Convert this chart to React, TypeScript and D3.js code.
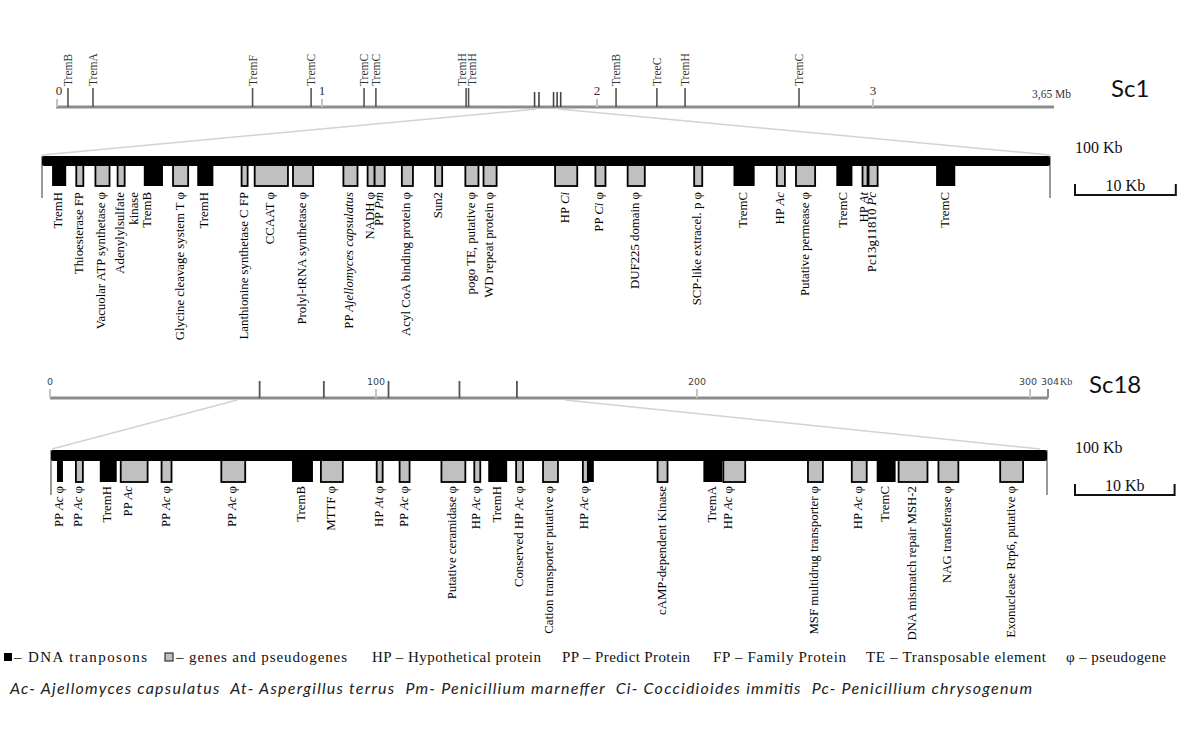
import React from "react";
import * as d3 from "d3";

type Kind = "te" | "gene";
interface Feature { start: number; end: number; kind: Kind; label: string; lx?: number; }

// ---- Sc1 chromosome (Mb) ----
const SC1_AXIS_TICKS = [0, 1, 2, 3];
const SC1_LENGTH = 3.65;
const SC1_TE_POS = [0.045, 0.139, 0.739, 0.959, 1.153, 1.196, 1.524, 1.533, 2.069, 2.217, 2.319, 2.732];
const SC1_TE_NAMES = ["TremB", "TremA", "TremF", "TremC", "TremC", "TremC", "TremH", "TremH", "TremB", "TreeC", "TremH", "TremC"];
const SC1_CLUSTER = [1.773, 1.789, 1.842, 1.855, 1.868];
const SC1_WINDOW = [1.78, 1.86];

// ---- Sc1 100 Kb window (kb) ----
const SC1_FEATURES: Feature[] = [
  { start: 1.0, end: 2.4, kind: "te", label: "TremH" },
  { start: 3.4, end: 4.1, kind: "gene", label: "Thioesterase FP" },
  { start: 5.3, end: 6.7, kind: "gene", label: "Vacuolar ATP synthetase φ" },
  { start: 7.5, end: 8.2, kind: "gene", label: "Adenylylsulfate\nkinase" },
  { start: 10.1, end: 12.0, kind: "te", label: "TremB", lx: 10.5 },
  { start: 13.0, end: 14.5, kind: "gene", label: "Glycine cleavage system T φ" },
  { start: 15.4, end: 17.0, kind: "te", label: "TremH" },
  { start: 19.8, end: 20.4, kind: "gene", label: "Lanthionine synthetase C FP" },
  { start: 21.1, end: 24.4, kind: "gene", label: "CCAAT φ" },
  { start: 24.9, end: 26.9, kind: "gene", label: "Prolyl-tRNA synthetase φ" },
  { start: 29.9, end: 31.3, kind: "gene", label: "PP *Ajellomyces capsulatus*" },
  { start: 32.3, end: 33.0, kind: "gene", label: "NADH φ" },
  { start: 33.0, end: 34.0, kind: "gene", label: "PP *Pm*" },
  { start: 35.7, end: 36.8, kind: "gene", label: "Acyl CoA binding protein φ" },
  { start: 39.0, end: 39.7, kind: "gene", label: "Sun2" },
  { start: 42.0, end: 43.3, kind: "gene", label: "pogo TE, putative φ" },
  { start: 43.8, end: 45.1, kind: "gene", label: "WD repeat protein φ" },
  { start: 50.9, end: 53.1, kind: "gene", label: "HP *Ci*" },
  { start: 54.9, end: 55.9, kind: "gene", label: "PP *Ci* φ" },
  { start: 58.1, end: 59.8, kind: "gene", label: "DUF225 domain φ" },
  { start: 64.7, end: 65.5, kind: "gene", label: "SCP-like extracel. p φ" },
  { start: 68.6, end: 70.7, kind: "te", label: "TremC" },
  { start: 72.9, end: 73.7, kind: "gene", label: "HP *Ac*" },
  { start: 74.8, end: 76.7, kind: "gene", label: "Putative permease φ" },
  { start: 78.8, end: 80.4, kind: "te", label: "TremC" },
  { start: 81.4, end: 81.9, kind: "gene", label: "HP *At*" },
  { start: 82.0, end: 82.9, kind: "gene", label: "Pc13g11810 *Pc*" },
  { start: 88.7, end: 90.6, kind: "te", label: "TremC" },
];

// ---- Sc18 chromosome (kb) ----
const SC18_AXIS_TICKS = [0, 100, 200, 300];
const SC18_LENGTH = 304;
const SC18_TE_POS = [64.3, 84.0, 103.9, 126.0, 143.9];
const SC18_WINDOW = [57.4, 158.9];

// ---- Sc18 100 Kb window (kb) ----
const SC18_FEATURES: Feature[] = [
  { start: 0.6, end: 1.2, kind: "te", label: "PP *Ac* φ" },
  { start: 2.5, end: 3.2, kind: "gene", label: "PP *Ac* φ" },
  { start: 4.9, end: 6.6, kind: "te", label: "TremH" },
  { start: 7.0, end: 9.7, kind: "gene", label: "PP *Ac*", lx: 7.8 },
  { start: 11.1, end: 12.1, kind: "gene", label: "PP *Ac* φ" },
  { start: 17.1, end: 19.5, kind: "gene", label: "PP *Ac* φ" },
  { start: 24.2, end: 26.3, kind: "te", label: "TremB" },
  { start: 27.1, end: 29.3, kind: "gene", label: "MTTF φ" },
  { start: 32.7, end: 33.3, kind: "gene", label: "HP *At* φ" },
  { start: 35.0, end: 36.0, kind: "gene", label: "PP *Ac* φ" },
  { start: 39.2, end: 41.6, kind: "gene", label: "Putative ceramidase φ" },
  { start: 42.5, end: 43.1, kind: "gene", label: "HP *Ac* φ" },
  { start: 43.9, end: 45.8, kind: "te", label: "TremH" },
  { start: 46.7, end: 47.4, kind: "gene", label: "Conserved HP *Ac* φ" },
  { start: 49.4, end: 50.9, kind: "gene", label: "Cation transporter putative φ" },
  { start: 53.4, end: 53.9, kind: "gene", label: "HP *Ac* φ" },
  { start: 53.9, end: 54.5, kind: "te", label: "" },
  { start: 60.9, end: 61.9, kind: "gene", label: "cAMP-dependent Kinase" },
  { start: 65.5, end: 67.4, kind: "te", label: "TremA" },
  { start: 67.5, end: 69.7, kind: "gene", label: "HP *Ac* φ", lx: 68.1 },
  { start: 76.0, end: 77.5, kind: "gene", label: "MSF multidrug transporter φ" },
  { start: 80.4, end: 81.9, kind: "gene", label: "HP *Ac* φ" },
  { start: 82.9, end: 84.8, kind: "te", label: "TremC" },
  { start: 85.1, end: 88.0, kind: "gene", label: "DNA mismatch repair MSH-2" },
  { start: 89.1, end: 91.1, kind: "gene", label: "NAG transferase φ" },
  { start: 95.3, end: 97.6, kind: "gene", label: "Exonuclease Rrp6, putative φ" },
];

const LEGEND_ITEMS = [
  "– DNA tranposons",
  "– genes and pseudogenes",
  "HP – Hypothetical protein",
  "PP – Predict Protein",
  "FP – Family Protein",
  "TE – Transposable element",
  "φ – pseudogene",
];
const SPECIES_LINE = "Ac- Ajellomyces capsulatus  At- Aspergillus terrus  Pm- Penicillium marneffer  Ci- Coccidioides immitis  Pc- Penicillium chrysogenum";

const SERIF = "'Liberation Serif', 'Times New Roman', serif";
const SANS = "'DejaVu Sans', sans-serif";
const TITLE = "Lato, 'Open Sans', sans-serif";

function Rich({ text }: { text: string }) {
  const parts = text.split("*");
  return (
    <>
      {parts.map((p, i) =>
        i % 2 ? <tspan key={i} fontStyle="italic">{p}</tspan> : <tspan key={i}>{p}</tspan>
      )}
    </>
  );
}

function Track({ features, scale, barTop, barH, boxH, labelTop, endLineBottom }: {
  features: Feature[]; scale: d3.ScaleLinear<number, number>; barTop: number; barH: number; boxH: number; labelTop: number; endLineBottom: number;
}) {
  const [r0, r1] = scale.range();
  const boxTop = barTop + barH - 1;
  return (
    <g>
      <line x1={r0} x2={r0} y1={barTop} y2={endLineBottom} stroke="#555" strokeWidth={1.2} />
      <line x1={r1} x2={r1} y1={barTop} y2={endLineBottom} stroke="#555" strokeWidth={1.2} />
      {features.map((f, i) => {
        const x0 = scale(f.start), x1 = scale(f.end);
        return f.kind === "te" ? (
          <rect key={i} x={x0} y={boxTop} width={x1 - x0} height={boxH} fill="#000" />
        ) : (
          <rect key={i} x={x0} y={boxTop} width={x1 - x0} height={boxH} fill="#c0c0c0" stroke="#000" strokeWidth={1.8} />
        );
      })}
      <rect x={r0} y={barTop} width={r1 - r0} height={barH} fill="#000" rx={2} />
      {features.map((f, i) => {
        if (!f.label) return null;
        const cx = scale(f.lx ?? (f.start + f.end) / 2) - 1;
        const lines = f.label.split("\n");
        return lines.map((ln, j) => (
          <text key={`${i}-${j}`} transform={`translate(${cx + j * 14},${labelTop}) rotate(-90)`}
            textAnchor="end" dominantBaseline="central" fontFamily={SERIF} fontSize={12.8} fill="#000"
            style={{ whiteSpace: "pre" }}>
            <Rich text={ln} />
          </text>
        ));
      })}
    </g>
  );
}

function ScaleBar({ x, y, scale }: { x: number; y: number; scale: d3.ScaleLinear<number, number> }) {
  const len = scale(10) - scale(0);
  return (
    <g>
      <text x={x} y={y - 42} fontFamily={SERIF} fontSize={16} fill="#111">100 Kb</text>
      <line x1={x} x2={x + len} y1={y} y2={y} stroke="#111" strokeWidth={2} />
      <line x1={x} x2={x} y1={y - 11} y2={y + 1} stroke="#111" strokeWidth={2} />
      <line x1={x + len} x2={x + len} y1={y - 11} y2={y + 1} stroke="#111" strokeWidth={2} />
      <text x={x + len / 2} y={y - 4} textAnchor="middle" fontFamily={SERIF} fontSize={16} fill="#111">10 Kb</text>
    </g>
  );
}

export default function App() {
  // Sc1 overview
  const sc1 = d3.scaleLinear().domain([0, 1, 2, 3, SC1_LENGTH]).range([56, 322, 597, 873, 1054]);
  const sc1Y = 107;
  const t1 = d3.scaleLinear().domain([0, 100]).range([42, 1050]);

  const teX = SC1_TE_POS.map((p) => sc1(p));
  const labX = teX.slice();
  for (let i = 1; i < labX.length; i++) {
    if (teX[i] - teX[i - 1] < 9) {
      const mid = (teX[i] + teX[i - 1]) / 2;
      labX[i - 1] = mid - 5;
      labX[i] = mid + 5;
    }
  }

  // Sc18 overview
  const sc18 = d3.scaleLinear().domain([0, 100, 200, 300, SC18_LENGTH]).range([50, 376, 697, 1030, 1048]);
  const sc18Y = 398;
  const t18 = d3.scaleLinear().domain([0, 100]).range([51, 1047]);

  const legendX = [14, 176, 372, 562, 713, 866, 1066];
  const legendW = [133, 171, 169, 128, 133, 180, 100];

  return (
    <svg width={1200} height={735} viewBox="0 0 1200 735"
      style={{ position: "absolute", left: 0, top: 0, background: "#fff" }}>
      <rect width={1200} height={735} fill="#fff" />

      {/* ===== Sc1 overview ===== */}
      <line x1={sc1.range()[0]} x2={sc1.range()[4]} y1={sc1Y} y2={sc1Y} stroke="#8c8c8c" strokeWidth={3} />
      {SC1_AXIS_TICKS.map((t) => (
        <g key={t}>
          <line x1={sc1(t) + (t === 0 ? 1 : 0)} x2={sc1(t) + (t === 0 ? 1 : 0)} y1={sc1Y - 8} y2={sc1Y} stroke="#c4c4c4" strokeWidth={2} />
          <text x={sc1(t) + (t === 0 ? 3 : 0)} y={sc1Y - 12} textAnchor="middle" fontFamily={SERIF} fontSize={13} fill="#333">{t}</text>
        </g>
      ))}
      <text x={sc1(SC1_LENGTH) - 22} y={sc1Y - 9} fontFamily={SERIF} fontSize={11.5} fill="#333">3,65 Mb</text>
      {teX.map((x, i) => (
        <g key={i}>
          <line x1={x} x2={x} y1={sc1Y - 19} y2={sc1Y} stroke="#555" strokeWidth={1.6} />
          <text transform={`translate(${labX[i]},${sc1Y - 21}) rotate(-90)`} dominantBaseline="central"
            fontFamily={SERIF} fontSize={11.5} fill="#333">{SC1_TE_NAMES[i]}</text>
        </g>
      ))}
      {SC1_CLUSTER.map((p, i) => (
        <line key={i} x1={sc1(p)} x2={sc1(p)} y1={sc1Y - 15} y2={sc1Y} stroke="#444" strokeWidth={1.6} />
      ))}
      <text x={1111} y={sc1Y - 10} fontFamily={TITLE} fontSize={24} fill="#111">Sc1</text>

      {/* zoom lines Sc1 */}
      <line x1={sc1(SC1_WINDOW[0])} y1={sc1Y + 2} x2={t1.range()[0]} y2={155} stroke="#d2d2d2" strokeWidth={1.5} />
      <line x1={sc1(SC1_WINDOW[1])} y1={sc1Y + 2} x2={t1.range()[1]} y2={155} stroke="#d2d2d2" strokeWidth={1.5} />

      <Track features={SC1_FEATURES} scale={t1} barTop={156} barH={10} boxH={21} labelTop={192} endLineBottom={198} />
      <ScaleBar x={1075} y={195} scale={t1} />

      {/* ===== Sc18 overview ===== */}
      <line x1={sc18.range()[0]} x2={sc18.range()[4]} y1={sc18Y} y2={sc18Y} stroke="#8c8c8c" strokeWidth={3} />
      {SC18_AXIS_TICKS.map((t) => (
        <g key={t}>
          <line x1={sc18(t)} x2={sc18(t)} y1={sc18Y - 9} y2={sc18Y} stroke="#c4c4c4" strokeWidth={2} />
          <text x={sc18(t) - (t === 300 ? 2 : 0)} y={sc18Y - 13} textAnchor="middle" fontFamily={SANS} fontSize={9.5} fill="#444">{t}</text>
        </g>
      ))}
      <line x1={sc18(SC18_LENGTH)} x2={sc18(SC18_LENGTH)} y1={sc18Y - 9} y2={sc18Y} stroke="#8c8c8c" strokeWidth={2} />
      <text x={sc18(SC18_LENGTH) - 7} y={sc18Y - 13} fontFamily={SANS} fontSize={9.5} fill="#444">304</text>
      <text x={sc18(SC18_LENGTH) + 12} y={sc18Y - 13} fontFamily={SERIF} fontSize={10} fill="#444">Kb</text>
      {SC18_TE_POS.map((p, i) => (
        <line key={i} x1={sc18(p)} x2={sc18(p)} y1={sc18Y - 17} y2={sc18Y} stroke="#555" strokeWidth={1.8} />
      ))}
      <text x={1089} y={sc18Y - 5} fontFamily={TITLE} fontSize={24} fill="#111">Sc18</text>

      {/* zoom lines Sc18 */}
      <line x1={sc18(SC18_WINDOW[0])} y1={sc18Y + 2} x2={t18.range()[0] + 1} y2={449} stroke="#d2d2d2" strokeWidth={1.5} />
      <line x1={sc18(SC18_WINDOW[1])} y1={sc18Y + 2} x2={t18.range()[1] - 7} y2={449} stroke="#d2d2d2" strokeWidth={1.5} />

      <Track features={SC18_FEATURES} scale={t18} barTop={450} barH={11} boxH={22} labelTop={486} endLineBottom={495} />
      <ScaleBar x={1075} y={495} scale={t18} />

      {/* ===== Legend ===== */}
      <rect x={4} y={653} width={8} height={8} fill="#000" />
      <rect x={165} y={653} width={8} height={8} fill="#c0c0c0" stroke="#333" strokeWidth={1.2} />
      {LEGEND_ITEMS.map((t, i) => (
        <text key={i} x={legendX[i]} y={662} fontFamily={SERIF} fontSize={15} fill="#111"
          textLength={legendW[i]} lengthAdjust="spacing" style={{ whiteSpace: "pre" }}>{t}</text>
      ))}
      <text x={10} y={694} fontFamily={TITLE} fontStyle="italic" fontSize={16} fill="#222"
        textLength={1022} lengthAdjust="spacing" style={{ whiteSpace: "pre" }}>{SPECIES_LINE}</text>
    </svg>
  );
}
